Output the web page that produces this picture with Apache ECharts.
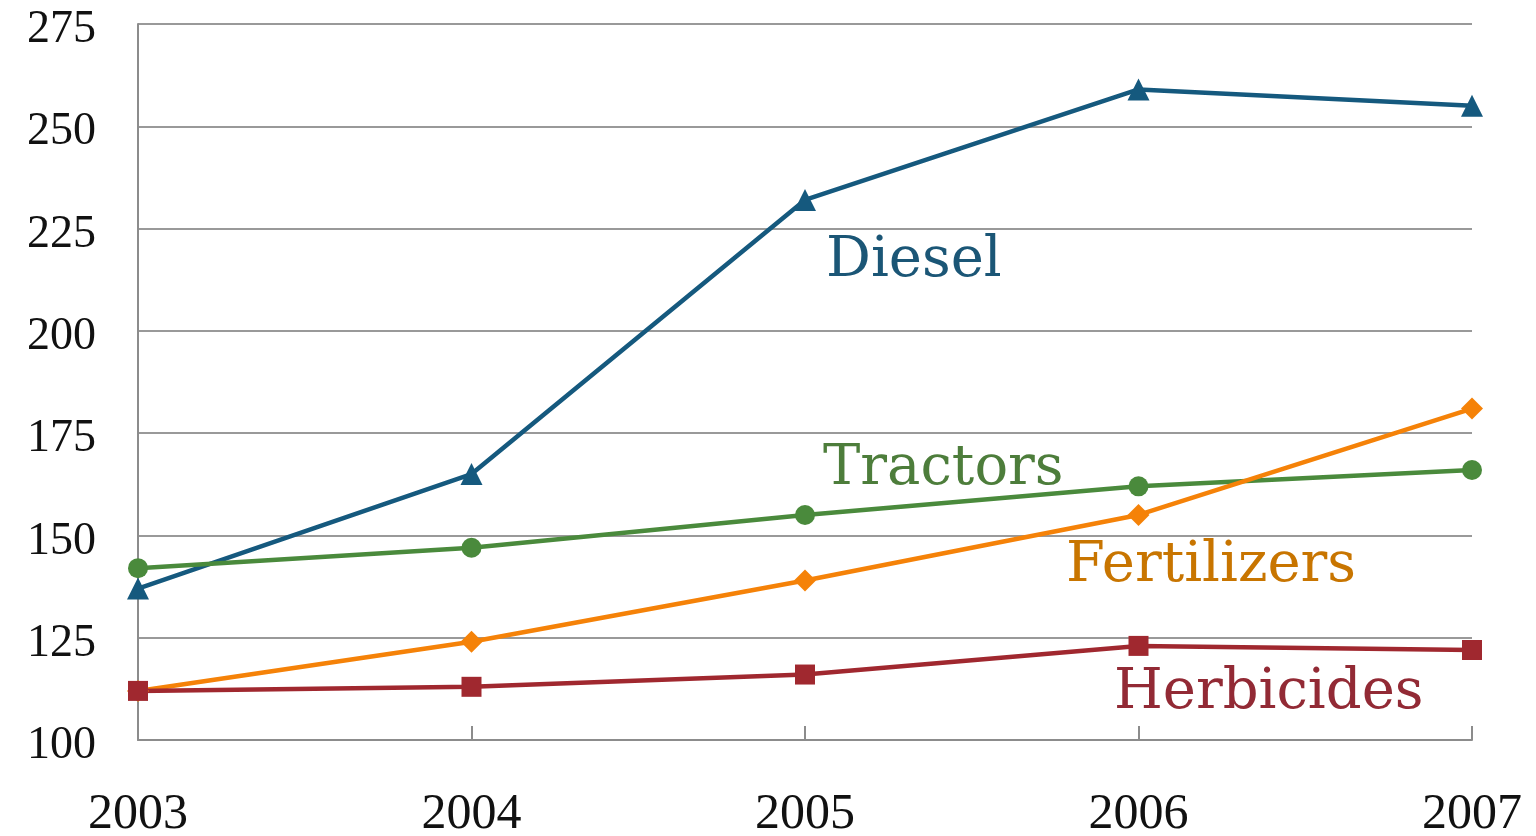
<!DOCTYPE html>
<html>
<head>
<meta charset="utf-8">
<script src="https://cdn.jsdelivr.net/npm/echarts@6/dist/echarts.min.js"></script>
<style>
html, body { margin: 0; padding: 0; background: #fff; }
#chart { width: 1536px; height: 836px; }
</style>
</head>
<body>
<div id="chart"></div>
<script>
const years = ['2003', '2004', '2005', '2006', '2007']
const diesel = [137, 165, 232, 259, 255]
const tractors = [142, 147, 155, 162, 166]
const fertilizers = [112, 124, 139, 155, 181]
const herbicides = [112, 113, 116, 123, 122]

const axisFont = 'Liberation Serif'
const labelFont = 'DejaVu Serif'

function line (name, data, color, symbol, size) {
    return {
        name: name,
        type: 'line',
        data: data,
        symbol: symbol,
        symbolSize: size,
        lineStyle: { color: color, width: 4.5 },
        itemStyle: { color: color },
        z: 3
    }
}

function tag (text, x, y, color) {
    return {
        type: 'text',
        left: x,
        top: y,
        style: { text: text, fill: color, font: '56px "' + labelFont + '"' }
    }
}

const chart = echarts.init(document.getElementById('chart'))
chart.setOption({
    animation: false,
    grid: { left: 138, right: 64, top: 24, bottom: 96, outerBoundsMode: 'none', containLabel: false },
    xAxis: {
        type: 'category',
        data: years,
        boundaryGap: false,
        axisLine: { lineStyle: { color: '#8c8c8c', width: 2 } },
        axisTick: { inside: true, length: 14, lineStyle: { color: '#8c8c8c', width: 2 } },
        axisLabel: { color: '#111', fontFamily: axisFont, fontSize: 50, margin: 50 },
        splitLine: { show: false }
    },
    yAxis: {
        type: 'value',
        min: 100,
        max: 275,
        interval: 25,
        axisLine: { show: true, lineStyle: { color: '#8c8c8c', width: 2 } },
        axisTick: { show: false },
        axisLabel: { color: '#111', fontFamily: axisFont, fontSize: 46, margin: 42, verticalAlign: 'top', lineHeight: 12 },
        splitLine: { lineStyle: { color: '#999', width: 2 } }
    },
    series: [
        line('Diesel', diesel, '#15597e', 'triangle', 22),
        line('Tractors', tractors, '#4a8a3c', 'circle', 20),
        line('Fertilizers', fertilizers, '#f58208', 'diamond', 22),
        line('Herbicides', herbicides, '#a0282f', 'rect', 20)
    ],
    graphic: [
        tag('Diesel', 826, 233, '#1b5676'),
        tag('Tractors', 823, 441, '#4d7d3b'),
        tag('Fertilizers', 1066, 538, '#c87500'),
        tag('Herbicides', 1114, 665, '#922a35')
    ]
})
</script>
</body>
</html>
